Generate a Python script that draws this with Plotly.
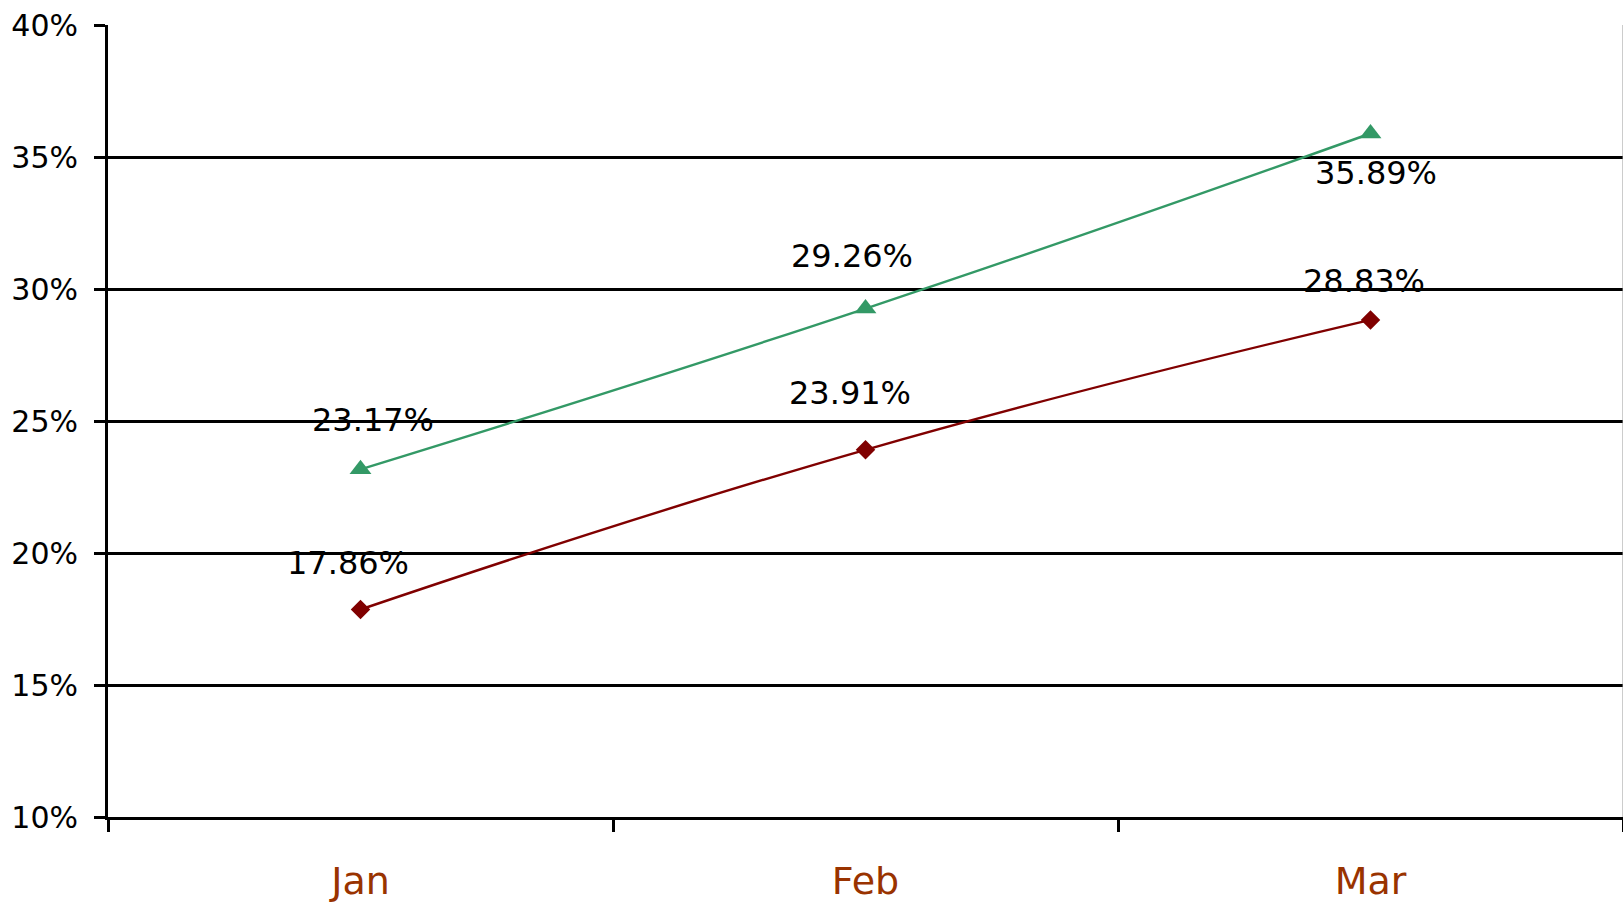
import plotly.graph_objects as go

months = ["Jan", "Feb", "Mar"]
series_green = [23.17, 29.26, 35.89]
series_red = [17.86, 23.91, 28.83]
y_ticks = [10, 15, 20, 25, 30, 35, 40]

# label offsets (pixels) - styling only
green_shift = [(12, 49), (-14, 53), (5, -39)]
red_shift = [(-13, 47), (-16, 57), (-7, 39)]

GREEN = "#339966"
RED = "#800000"

fig = go.Figure()
fig.add_trace(go.Scatter(
    x=months, y=[v / 100 for v in series_red], mode="lines+markers",
    line=dict(color=RED, width=2.4, shape="spline", smoothing=1.3),
    marker=dict(symbol="diamond", size=15, color=RED),
    showlegend=False, hoverinfo="skip"))
fig.add_trace(go.Scatter(
    x=months, y=[v / 100 for v in series_green], mode="lines+markers",
    line=dict(color=GREEN, width=2.4, shape="spline", smoothing=1.3),
    marker=dict(symbol="triangle-up", size=19, color=GREEN),
    showlegend=False, hoverinfo="skip"))

for vals, shifts in ((series_green, green_shift), (series_red, red_shift)):
    for m, v, (dx, dy) in zip(months, vals, shifts):
        fig.add_annotation(x=m, y=v / 100, text=f"{v:.2f}%", showarrow=False,
                           xshift=dx, yshift=dy,
                           font=dict(family="DejaVu Sans", size=32, color="black"))

fig.add_shape(type="line", xref="paper", yref="paper", x0=1, x1=1, y0=0, y1=1,
              line=dict(color="#999999", width=1))

fig.update_layout(
    width=1623, height=905,
    margin=dict(l=108, r=0, t=25, b=88),
    paper_bgcolor="white", plot_bgcolor="white",
    xaxis=dict(type="category", range=[-0.5, 2.5], tickson="boundaries",
               ticks="outside", ticklen=12, tickwidth=2.5, tickcolor="black",
               showline=True, linecolor="black", linewidth=3, showgrid=False,
               tickfont=dict(family="DejaVu Sans", size=38, color="#993300"),
               ticklabelstandoff=28),
    yaxis=dict(range=[0.10, 0.40], tickvals=[t / 100 for t in y_ticks],
               ticktext=[f"{t}%" for t in y_ticks],
               ticks="outside", ticklen=11, tickwidth=2.5, tickcolor="black",
               showline=True, linecolor="black", linewidth=3,
               showgrid=True, gridcolor="black", gridwidth=2.5, zeroline=False,
               tickfont=dict(family="DejaVu Sans", size=30, color="black"),
               ticklabelstandoff=10),
)

fig.write_html("out.html")
